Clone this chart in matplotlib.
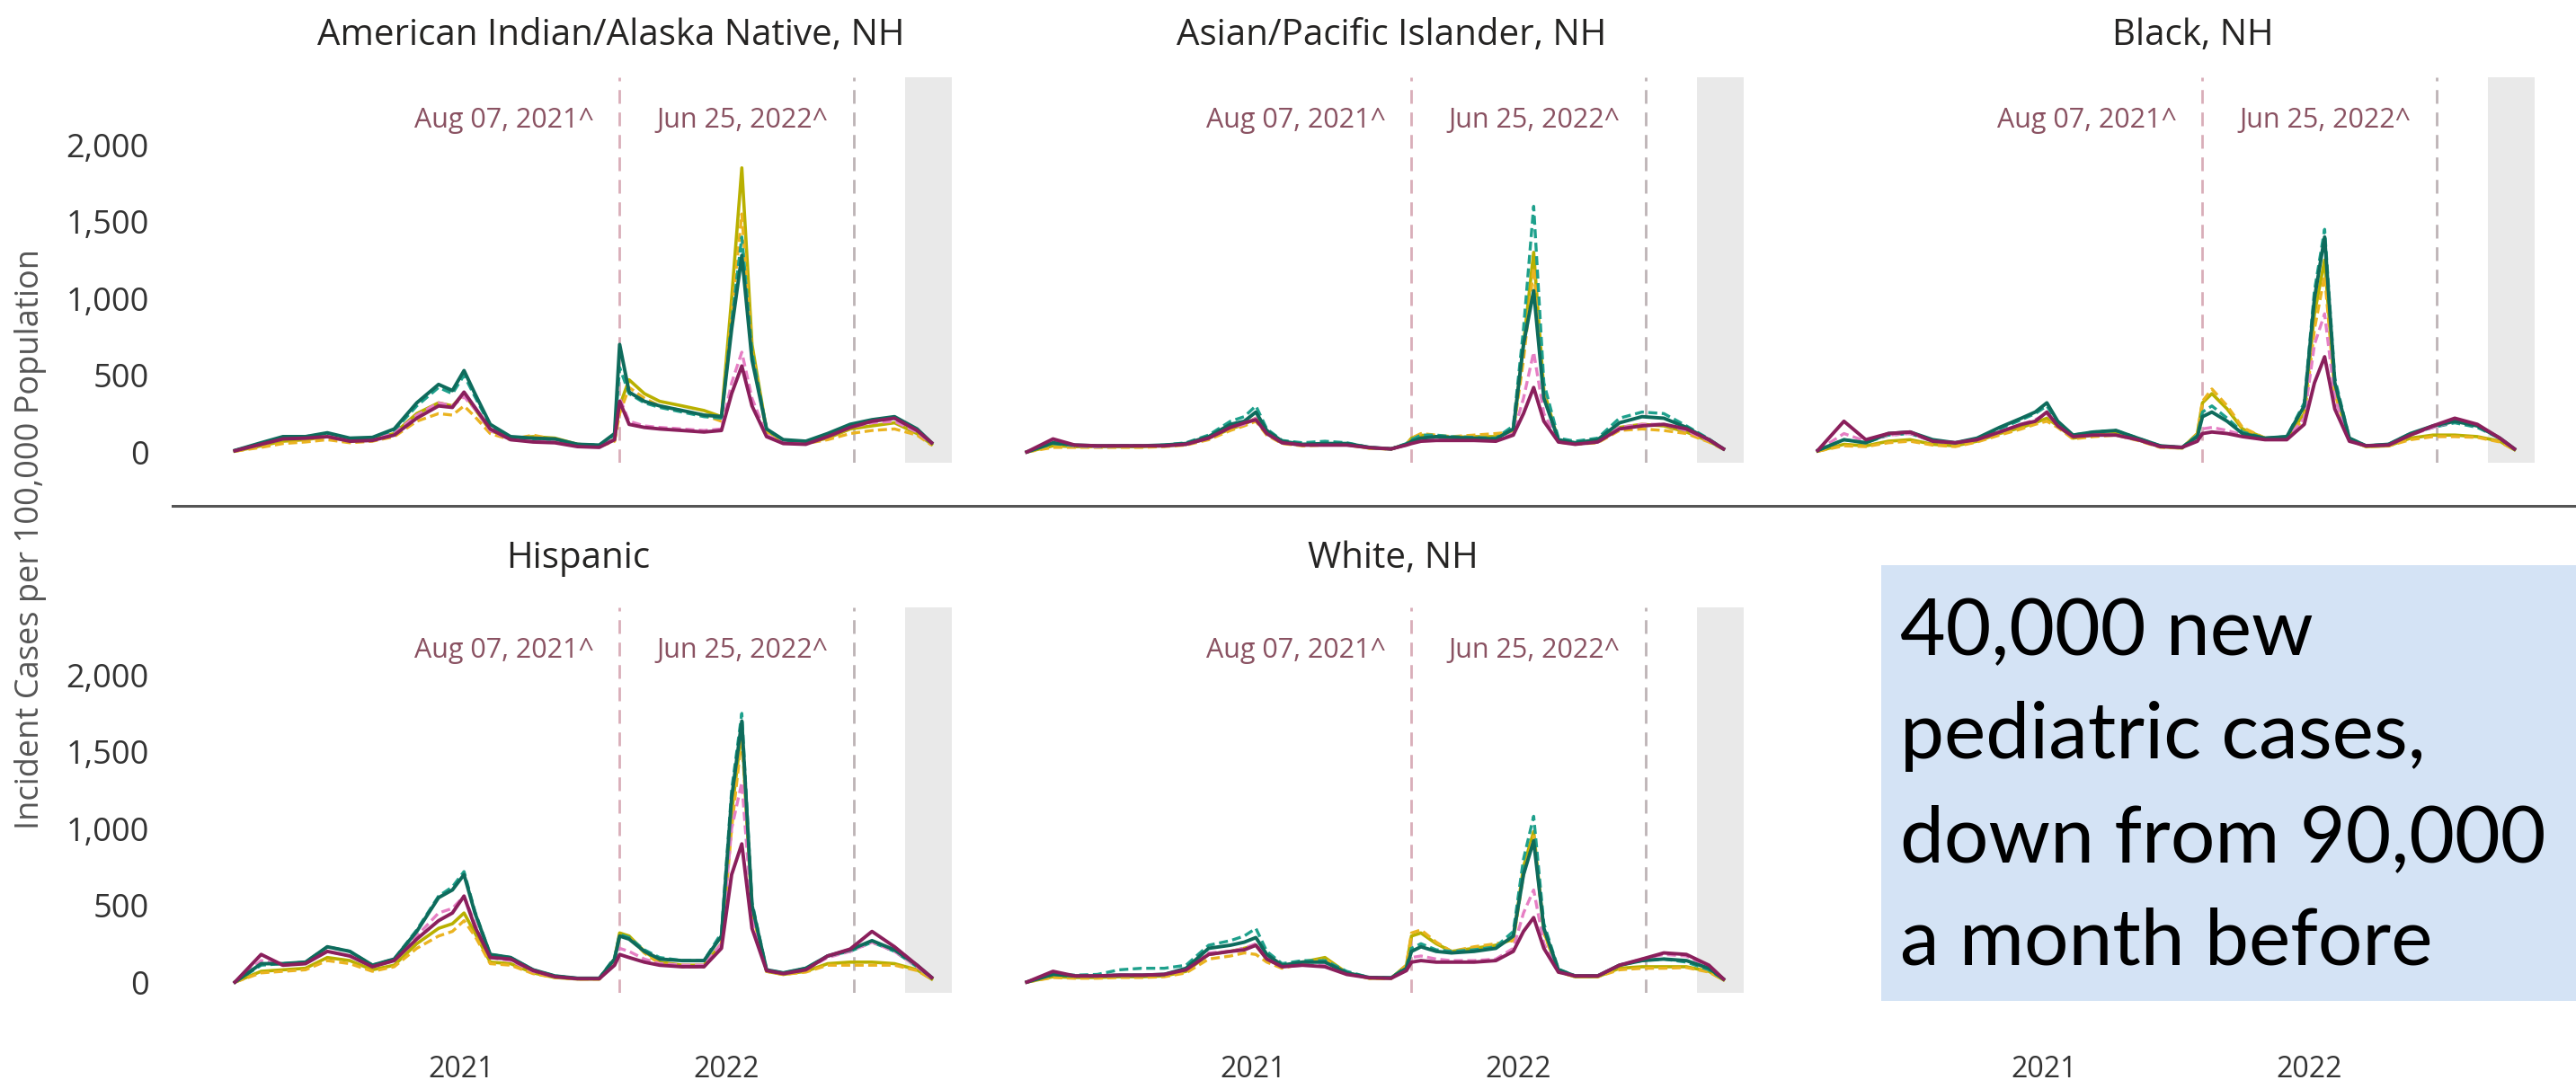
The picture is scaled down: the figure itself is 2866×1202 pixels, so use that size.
import numpy as np
import pandas as pd
import matplotlib
matplotlib.use("Agg")
import matplotlib.pyplot as plt
import matplotlib.dates as mdates
import matplotlib.transforms as mtransforms
from matplotlib.lines import Line2D
from matplotlib.patches import Rectangle
from matplotlib.ticker import FuncFormatter

# ---------------------------------------------------------------------
# Data (incident cases per 100,000)
# ---------------------------------------------------------------------

dates = pd.to_datetime([
    "2020-02-25", "2020-04-01", "2020-05-01", "2020-06-01", "2020-07-01",
    "2020-08-01", "2020-09-01", "2020-10-01", "2020-11-01", "2020-12-01",
    "2020-12-20", "2021-01-05", "2021-01-20", "2021-02-10", "2021-03-10",
    "2021-04-10", "2021-05-10", "2021-06-10", "2021-07-10", "2021-07-31",
    "2021-08-07", "2021-08-20", "2021-09-10", "2021-10-01", "2021-11-01",
    "2021-12-01", "2021-12-25", "2022-01-08", "2022-01-22", "2022-02-05",
    "2022-02-25", "2022-03-20", "2022-04-20", "2022-05-20", "2022-06-20",
    "2022-07-20", "2022-08-20", "2022-09-20", "2022-10-10",
])

panel_titles = [
    "American Indian/Alaska Native, NH",
    "Asian/Pacific Islander, NH",
    "Black, NH",
    "Hispanic",
    "White, NH",
]

# series order: dark green, teal dashed, olive, gold dashed, pink dashed, plum
aian = [
    [10, 60, 100, 100, 125, 90, 95, 150, 320, 440, 400, 530, 380, 180, 100, 90, 85, 50, 45, 120, 700, 390, 330, 300, 270, 240, 230, 800, 1280, 600, 150, 80, 70, 120, 180, 210, 230, 150, 60],
    [10, 55, 95, 100, 120, 85, 90, 140, 300, 420, 380, 500, 360, 170, 95, 85, 80, 50, 45, 110, 550, 380, 320, 290, 260, 230, 220, 850, 1400, 650, 150, 75, 70, 110, 170, 200, 220, 140, 55],
    [5, 40, 70, 80, 100, 70, 80, 120, 250, 320, 300, 380, 280, 140, 90, 100, 90, 50, 40, 80, 300, 470, 380, 330, 300, 270, 230, 1000, 1850, 700, 140, 70, 60, 90, 150, 170, 190, 120, 50],
    [5, 30, 55, 65, 80, 60, 70, 100, 200, 250, 240, 300, 230, 120, 80, 110, 80, 45, 35, 70, 250, 420, 350, 300, 270, 240, 200, 900, 1550, 650, 130, 60, 55, 80, 120, 140, 150, 110, 45],
    [8, 50, 85, 90, 105, 75, 80, 120, 240, 320, 300, 360, 280, 140, 80, 70, 65, 40, 35, 90, 350, 200, 170, 160, 150, 140, 150, 450, 650, 350, 110, 60, 55, 100, 160, 190, 200, 130, 55],
    [8, 50, 85, 90, 100, 70, 75, 110, 220, 300, 290, 390, 290, 150, 80, 65, 60, 35, 30, 80, 330, 180, 160, 150, 140, 130, 140, 380, 560, 300, 100, 55, 50, 100, 160, 200, 220, 140, 60],
]

asian = [
    [0, 60, 45, 40, 40, 40, 45, 55, 100, 180, 200, 260, 140, 70, 50, 55, 55, 30, 20, 50, 70, 90, 100, 95, 90, 85, 150, 700, 1050, 350, 80, 60, 80, 190, 230, 220, 160, 80, 20],
    [0, 55, 40, 35, 40, 40, 45, 60, 110, 200, 230, 300, 150, 75, 60, 70, 60, 30, 20, 55, 80, 110, 110, 100, 95, 90, 170, 800, 1600, 450, 90, 70, 90, 220, 260, 250, 170, 85, 20],
    [0, 40, 35, 35, 35, 35, 40, 50, 90, 150, 180, 220, 120, 60, 45, 50, 50, 25, 20, 50, 90, 110, 100, 95, 100, 100, 140, 700, 1300, 400, 70, 55, 70, 160, 180, 170, 130, 70, 20],
    [0, 30, 30, 30, 30, 30, 35, 45, 80, 140, 170, 200, 110, 55, 40, 45, 45, 25, 18, 50, 90, 120, 110, 100, 110, 120, 130, 600, 1200, 380, 65, 50, 60, 140, 150, 140, 120, 65, 18],
    [0, 65, 40, 35, 40, 40, 40, 50, 90, 160, 180, 220, 120, 60, 45, 45, 45, 28, 20, 45, 60, 75, 80, 80, 80, 75, 120, 350, 650, 250, 70, 55, 70, 160, 180, 180, 140, 75, 20],
    [0, 85, 45, 40, 40, 40, 40, 50, 90, 160, 190, 210, 120, 60, 45, 45, 45, 28, 20, 45, 55, 70, 75, 75, 75, 70, 110, 250, 420, 200, 65, 50, 65, 150, 170, 180, 150, 80, 20],
]

black = [
    [10, 80, 60, 120, 130, 80, 60, 90, 160, 220, 260, 320, 200, 110, 130, 140, 90, 40, 30, 100, 230, 260, 200, 120, 90, 100, 300, 1000, 1400, 450, 90, 40, 50, 120, 170, 200, 170, 90, 20],
    [10, 80, 60, 110, 120, 70, 60, 85, 150, 210, 250, 300, 190, 110, 130, 140, 90, 40, 30, 110, 260, 300, 220, 130, 90, 100, 320, 1050, 1450, 480, 90, 40, 50, 120, 160, 190, 160, 90, 20],
    [5, 50, 40, 70, 80, 50, 40, 70, 120, 160, 190, 220, 170, 90, 110, 120, 80, 35, 25, 120, 320, 380, 280, 150, 90, 90, 250, 900, 1250, 400, 80, 35, 40, 90, 110, 110, 100, 70, 15],
    [5, 40, 35, 60, 70, 45, 35, 65, 110, 150, 180, 200, 160, 85, 100, 110, 75, 30, 25, 120, 330, 410, 300, 160, 90, 90, 220, 800, 1150, 380, 75, 35, 40, 80, 100, 100, 95, 65, 15],
    [10, 120, 70, 110, 120, 70, 60, 80, 130, 180, 210, 250, 170, 100, 110, 110, 80, 35, 30, 80, 150, 160, 140, 110, 80, 85, 220, 700, 900, 350, 80, 40, 45, 110, 160, 200, 170, 90, 20],
    [10, 200, 80, 120, 130, 70, 60, 80, 130, 180, 200, 260, 170, 100, 110, 110, 80, 35, 30, 70, 120, 130, 120, 100, 80, 80, 180, 450, 620, 280, 70, 40, 45, 110, 170, 220, 180, 90, 20],
]

hispanic = [
    [0, 120, 120, 130, 230, 200, 110, 150, 330, 550, 600, 700, 450, 180, 160, 80, 40, 25, 25, 150, 300, 280, 200, 150, 140, 140, 300, 1200, 1700, 500, 80, 60, 90, 170, 210, 270, 210, 110, 30],
    [0, 110, 120, 130, 230, 200, 110, 150, 340, 560, 620, 720, 460, 180, 160, 80, 40, 25, 25, 160, 310, 290, 210, 160, 140, 140, 320, 1250, 1750, 520, 80, 60, 90, 170, 200, 260, 200, 100, 30],
    [0, 70, 80, 90, 160, 140, 80, 110, 250, 350, 380, 450, 320, 130, 120, 60, 30, 20, 20, 150, 320, 300, 200, 130, 110, 110, 250, 1100, 1650, 480, 70, 50, 70, 120, 130, 130, 120, 80, 20],
    [0, 60, 70, 80, 140, 120, 70, 100, 220, 300, 330, 400, 300, 120, 110, 55, 30, 20, 20, 140, 300, 290, 190, 120, 100, 100, 230, 1000, 1600, 460, 70, 50, 65, 110, 110, 110, 110, 75, 20],
    [0, 140, 110, 120, 200, 170, 100, 140, 300, 450, 480, 560, 380, 160, 140, 70, 35, 22, 22, 120, 220, 200, 150, 120, 110, 110, 250, 1000, 1300, 430, 75, 55, 80, 160, 200, 260, 200, 100, 25],
    [0, 180, 110, 120, 200, 170, 100, 140, 280, 400, 450, 560, 360, 160, 150, 75, 35, 22, 22, 110, 180, 160, 130, 110, 100, 100, 220, 700, 900, 350, 75, 55, 80, 170, 215, 330, 230, 110, 30],
]

white = [
    [0, 50, 40, 40, 45, 45, 50, 90, 220, 240, 260, 290, 180, 110, 130, 130, 60, 30, 28, 90, 200, 230, 200, 190, 200, 220, 300, 700, 920, 350, 80, 40, 40, 110, 140, 150, 140, 90, 20],
    [0, 55, 45, 50, 80, 90, 90, 110, 240, 270, 300, 350, 200, 120, 140, 140, 70, 30, 28, 100, 220, 250, 210, 200, 210, 230, 330, 800, 1080, 380, 85, 40, 40, 110, 140, 150, 130, 80, 20],
    [0, 35, 30, 30, 35, 35, 40, 70, 180, 200, 220, 240, 150, 100, 130, 160, 60, 25, 25, 110, 300, 320, 250, 200, 220, 240, 280, 750, 980, 330, 70, 35, 35, 90, 100, 100, 100, 70, 15],
    [0, 30, 25, 25, 30, 30, 35, 60, 150, 170, 190, 180, 130, 90, 120, 150, 55, 25, 22, 110, 320, 340, 260, 200, 230, 250, 270, 700, 950, 320, 65, 35, 35, 80, 90, 90, 95, 65, 15],
    [0, 60, 40, 40, 45, 45, 50, 80, 190, 200, 220, 250, 160, 100, 110, 110, 55, 28, 25, 80, 160, 170, 150, 140, 140, 150, 220, 450, 600, 250, 70, 40, 40, 110, 150, 180, 170, 100, 20],
    [0, 70, 40, 40, 45, 45, 50, 80, 180, 200, 210, 240, 150, 100, 110, 100, 50, 28, 25, 75, 130, 140, 130, 130, 130, 140, 200, 330, 420, 220, 65, 40, 40, 110, 150, 190, 180, 110, 20],
]

panel_values = [aian, asian, black, hispanic, white]

event_dates = pd.to_datetime(["2021-08-07", "2022-06-25"])
event_labels = ["Aug 07, 2021^", "Jun 25, 2022^"]
shade_span = pd.to_datetime(["2022-09-03", "2022-11-07"])
y_ticks = [0, 500, 1000, 1500, 2000]
year_ticks = pd.to_datetime(["2021-01-01", "2022-01-01"])
year_labels = ["2021", "2022"]
note_lines = ["40,000 new", "pediatric cases,", "down from 90,000", "a month before"]

# ---------------------------------------------------------------------
# Styling
# ---------------------------------------------------------------------

series_styles = [
    dict(color="#0e6b5c", lw=2.8, ls="-", zorder=5),
    dict(color="#1ea08c", lw=2.4, ls=(0, (3, 1.5)), zorder=4),
    dict(color="#b9b000", lw=2.6, ls="-", zorder=2),
    dict(color="#eab320", lw=2.4, ls=(0, (3, 1.5)), zorder=3),
    dict(color="#e67fc4", lw=2.4, ls=(0, (3, 1.5)), zorder=4),
    dict(color="#8a1f5c", lw=2.8, ls="-", zorder=6),
]
event_colors = ["#d9aeb9", "#bdb3b6"]

plt.rcParams["font.family"] = ["Open Sans", "DejaVu Sans"]

W, H = 2866, 1202
fig = plt.figure(figsize=(W / 100, H / 100), dpi=100)
fig.patch.set_facecolor("white")

col_left = [242, 1123, 2003]
row_top = [86, 676]
ax_w, ax_h = 822, 429
title_x = [0.533, 0.517, 0.532, 0.488, 0.519]
title_gap = [46, 54]

xlim = pd.to_datetime(["2020-02-01", "2022-11-13"])
ylim = (-70, 2440)


def add_px_axes(left, top, width, height):
    return fig.add_axes([left / W, 1 - (top + height) / H, width / W, height / H])


def style_axes(ax, row, col):
    ax.set_xlim(xlim[0], xlim[1])
    ax.set_ylim(*ylim)
    for s in ax.spines.values():
        s.set_visible(False)
    ax.set_yticks(y_ticks)
    ax.yaxis.set_major_formatter(FuncFormatter(lambda v, p: f"{int(v):,}"))
    ax.tick_params(axis="y", length=0, pad=55, labelsize=26, labelcolor="#333333",
                   labelleft=(col == 0))
    ax.set_xticks(year_ticks)
    ax.set_xticklabels(year_labels)
    ax.tick_params(axis="x", length=0, pad=50, labelsize=23, labelcolor="#333333",
                   labelbottom=(row == 1))


axes = []
for i in range(6):
    row, col = divmod(i, 3)
    ax = add_px_axes(col_left[col], row_top[row], ax_w, ax_h)
    style_axes(ax, row, col)
    axes.append(ax)

for i, (title, values) in enumerate(zip(panel_titles, panel_values)):
    row, col = divmod(i, 3)
    ax = axes[i]
    ax.axvspan(shade_span[0], shade_span[1], color="#e9e9e9", lw=0, zorder=0)
    for d, lab, c in zip(event_dates, event_labels, event_colors):
        ax.axvline(d, color=c, lw=2, ls=(0, (5.5, 3.5)), zorder=1)
        tr = mtransforms.offset_copy(ax.transData, fig=fig, x=-28, y=0, units="dots")
        ax.text(d, 2160, lab, transform=tr, ha="right", va="center",
                fontsize=22, color="#8a5262")
    for ys, st in zip(values, series_styles):
        ax.plot(dates, ys, color=st["color"], lw=st["lw"], ls=st["ls"],
                zorder=st["zorder"], solid_joinstyle="round")
    ax.text(title_x[i], 1 + title_gap[row] / ax_h, title, transform=ax.transAxes,
            ha="center", va="center", fontsize=29, color="#252423")

# separator between the two rows
fig.add_artist(Line2D([192 / W, 1.0], [1 - 563 / H, 1 - 563 / H],
                      color="#555555", lw=2.2))

fig.text(34 / W, 1 - 600 / H, "Incident Cases per 100,000 Population",
         rotation=90, ha="center", va="center", fontsize=26, color="#555555")

# note box over the sixth slot
fig.add_artist(Rectangle((2093 / W, 1 - 1114 / H), (2866 - 2093) / W, (1114 - 629) / H,
                         transform=fig.transFigure, facecolor="#d4e3f5",
                         edgecolor="none", zorder=10))
for k, line in enumerate(note_lines):
    fig.text(2114 / W, 1 - (729 + 115 * k) / H, line, ha="left", va="baseline",
             fontsize=63, color="black", family=["Lato", "DejaVu Sans"], zorder=11)

fig.savefig("out.png", dpi=100)
